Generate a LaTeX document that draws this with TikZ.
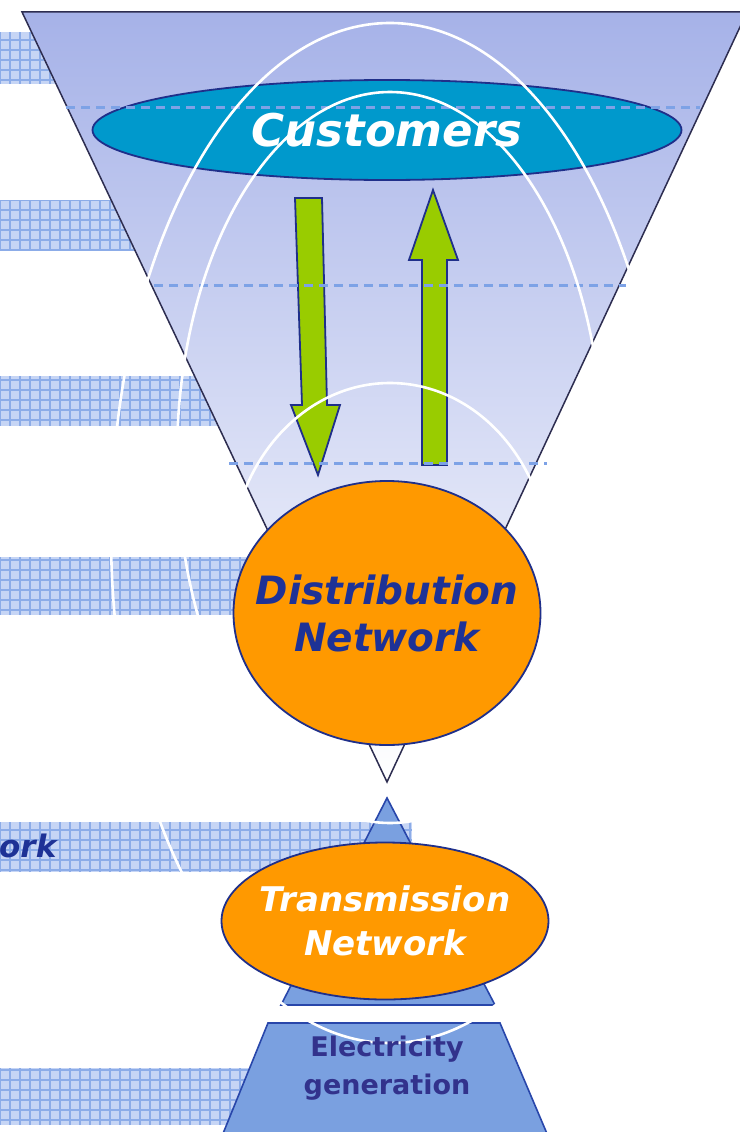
\documentclass[tikz,border=0pt]{standalone}
\usepackage{fontspec}
\setmainfont{DejaVu Sans}
\usetikzlibrary{shapes.geometric}
\definecolor{navy}{RGB}{31,47,138}
\definecolor{textnavy}{RGB}{30,50,150}
\definecolor{gennavy}{RGB}{50,50,140}
\definecolor{trapline}{RGB}{45,45,80}
\definecolor{traptop}{RGB}{166,178,232}
\definecolor{custblue}{RGB}{0,153,204}
\definecolor{orangefill}{RGB}{255,153,0}
\definecolor{greenfill}{RGB}{153,204,0}
\definecolor{midblue}{RGB}{122,160,224}
\definecolor{midline}{RGB}{40,70,170}
\definecolor{dashblue}{RGB}{125,162,230}
\definecolor{barfill}{RGB}{198,213,245}
\definecolor{gridcol}{RGB}{140,172,232}
\tikzset{
  barbox/.style={fill=barfill},
  gridlines/.style={draw=gridcol, line width=1.3pt, step=10pt},
  guide/.style={draw=dashblue, line width=3pt, dash pattern=on 9pt off 6pt},
  whitearc/.style={draw=white, line width=2.6pt},
  greenarrow/.style={fill=greenfill, draw=navy, line width=1.8pt, line join=miter},
  bigell/.style={ellipse, draw=navy, line width=1.8pt, inner sep=0pt, outer sep=0pt},
  celltext/.style={align=center, inner sep=0pt},
}
\newcommand\gridbar[4]{%
  \fill[barbox] (#1,#2) rectangle (#3,#4);
  \begin{scope}
    \clip (#1,#2) rectangle (#3,#4);
    \draw[gridlines] (#1,#2) grid (#3,#4);
  \end{scope}}
\begin{document}
\begin{tikzpicture}[x=1pt,y=-1pt]
\useasboundingbox (0,0) rectangle (739,1132);
% background bars on the left
\gridbar{0}{32}{100}{84}
\gridbar{0}{200}{170}{250}
\gridbar{0}{376}{240}{426}
\gridbar{0}{557}{255}{615}
\gridbar{0}{822}{412}{872}
\gridbar{0}{1068}{262}{1125}
\node[anchor=base west, inner sep=0pt, text=textnavy,
      font=\fontsize{31}{36}\selectfont\bfseries\itshape] (ork) at (-1,857) {ork};
% funnel
\draw[top color=traptop, bottom color=white, draw=trapline, line width=1.5pt]
  (22,12) -- (747,12) -- (387,782) -- cycle;
% customers
\node[bigell, fill=custblue, minimum width=589pt, minimum height=100pt] (cust) at (387,130) {};
\node[celltext, text=white, font=\fontsize{45}{50}\selectfont\bfseries\itshape] (custtext) at (cust.center) {Customers};
% arrows
\draw[greenarrow] (295,198) -- (322,198) -- (327,405) -- (340,405) -- (318,475)
  -- (291,405) -- (302,405) -- cycle;
\draw[greenarrow] (422,465) -- (447,465) -- (447,260) -- (458,260) -- (433,190)
  -- (409,260) -- (422,260) -- cycle;
% dashed guides
\draw[guide] (66,107) -- (700,107);
\draw[guide] (154,285) -- (626,285);
\draw[guide] (229,463) -- (547,463);
% transmission triangle and generation trapezoid
\draw[fill=midblue, draw=midline, line width=1.6pt] (387,798) -- (495,1005) -- (281,1005) -- cycle;
\draw[fill=midblue, draw=midline, line width=1.6pt] (268,1023) -- (500,1023) -- (548,1136) -- (222,1136) -- cycle;
% white arcs
\draw[whitearc] (390,533) ellipse [x radius=279pt, y radius=510pt];
\draw[whitearc] (390,457.5) ellipse [x radius=213pt, y radius=365.5pt];
\begin{scope}
  \clip (0,0) rectangle (739,535);
  \draw[whitearc] (390,568) ellipse [x radius=160pt, y radius=185pt];
\end{scope}
% distribution
\node[bigell, fill=orangefill, minimum width=307pt, minimum height=264pt] (dist) at (387,613) {};
\node[celltext, text=textnavy, font=\fontsize{39}{47}\selectfont\bfseries\itshape] (disttext) at (dist.center) {Distribution\\Network};
% transmission
\node[bigell, fill=orangefill, minimum width=327pt, minimum height=157pt] (trans) at (385,921) {};
\node[celltext, text=white, font=\fontsize{34}{44}\selectfont\bfseries\itshape] (transtext) at (trans.center) {Transmission\\Network};
% generation text
\node[celltext, text=gennavy, font=\fontsize{27}{38}\selectfont\bfseries] (gen) at (387,1068) {Electricity\\generation};
\end{tikzpicture}
\end{document}
